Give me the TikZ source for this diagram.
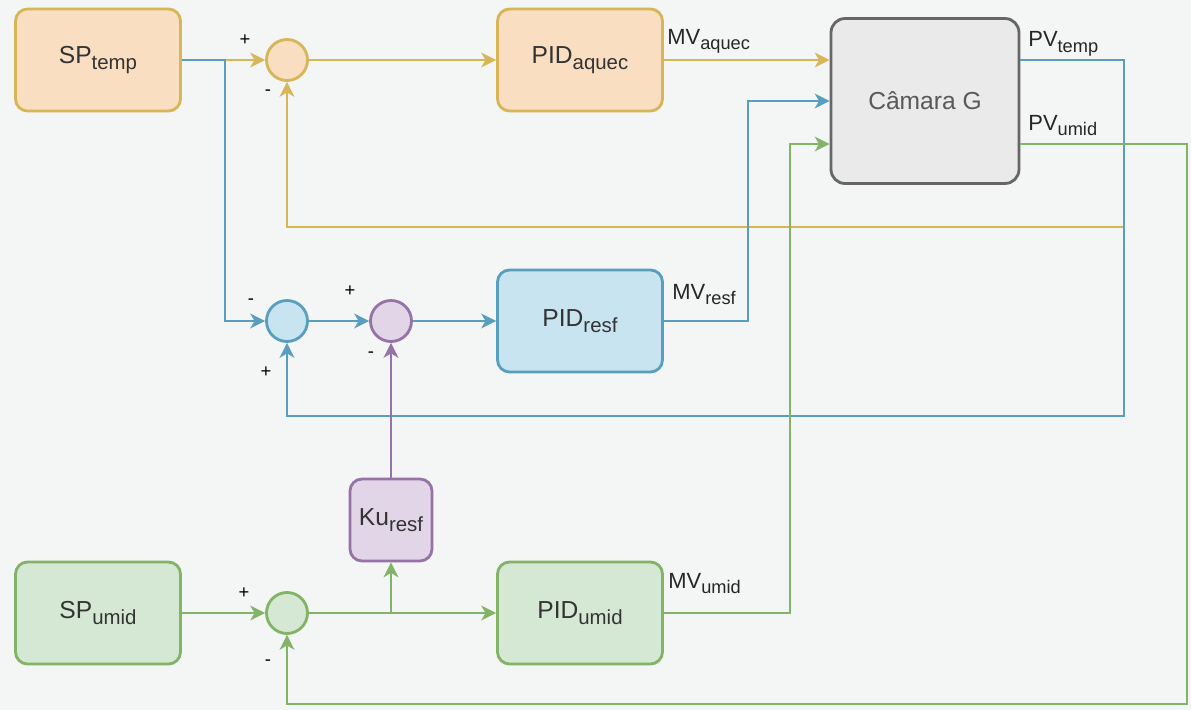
\documentclass[tikz,border=0pt]{standalone}
\usepackage{graphicx}
\usepackage{fontspec}
\setmainfont{Liberation Sans}
\usetikzlibrary{arrows.meta}
\definecolor{ctbg}{RGB}{244,245,245}
\definecolor{ctgold}{RGB}{214,182,86}
\definecolor{ctpeach}{RGB}{249,222,193}
\definecolor{ctblue}{RGB}{88,158,190}
\definecolor{ctcyan}{RGB}{200,228,240}
\definecolor{ctpurple}{RGB}{150,115,166}
\definecolor{ctlilac}{RGB}{225,213,231}
\definecolor{ctgreen}{RGB}{130,179,102}
\definecolor{ctmint}{RGB}{213,232,212}
\definecolor{ctgray}{RGB}{102,102,102}
\definecolor{ctlight}{RGB}{234,234,234}
\newcommand{\sbx}[1]{\raisebox{-0.27em}{\scalebox{0.83}{#1}}}

\begin{document}
\begin{tikzpicture}[
    x=0.02cm, y=-0.02cm,
    box/.style={rectangle, rounded corners=0.24cm, line width=1.6pt, minimum width=3.3cm, minimum height=2.04cm, align=center, text=black!80, font=\fontsize{14}{17}\selectfont},
    sumnode/.style={circle, line width=1.6pt, minimum size=0.82cm, inner sep=0pt},
    arrow/.style={-{Stealth[length=8.5pt,width=8.5pt,inset=2.5pt]}, line width=0.9pt},
    sign/.style={inner sep=0pt, font=\fontsize{10.5}{12}\selectfont},
    lbl/.style={anchor=base west, inner sep=0pt, text=black!85, font=\fontsize{12.5}{15}\selectfont}
]
    \fill[ctbg] (0,0) rectangle (1191,710);

    \node[box, draw=ctgold, fill=ctpeach] (sptemp) at (98,60) {SP\sbx{temp}};
    \node[sumnode, draw=ctgold, fill=ctpeach] (sum1) at (287,60) {};
    \node[box, draw=ctgold, fill=ctpeach] (pidaq) at (580,60) {PID\sbx{aquec}};
    \node[box, draw=ctgray, fill=ctlight, text=black!65, minimum width=3.76cm, minimum height=3.3cm, rounded corners=0.28cm] (camara) at (925,101) {Câmara G};

    \node[sumnode, draw=ctblue, fill=ctcyan] (sum2) at (287,321) {};
    \node[sumnode, draw=ctpurple, fill=ctlilac] (sum3) at (391,321) {};
    \node[box, draw=ctblue, fill=ctcyan] (pidrf) at (580,321) {PID\sbx{resf}};

    \node[box, draw=ctpurple, fill=ctlilac, minimum width=1.64cm, minimum height=1.64cm, inner sep=1pt] (kur) at (391,520) {Ku\sbx{resf}};

    \node[box, draw=ctgreen, fill=ctmint] (spum) at (98,613) {SP\sbx{umid}};
    \node[sumnode, draw=ctgreen, fill=ctmint] (sum4) at (287,613) {};
    \node[box, draw=ctgreen, fill=ctmint] (pidum) at (580,613) {PID\sbx{umid}};

    \coordinate (tsplit) at (225,60);
    \coordinate (tcorner) at (1124,60);
    \coordinate (ttap) at (1124,227);
    \coordinate (tdown) at (1124,416);
    \coordinate (rcorner) at (748,321);
    \coordinate (ucorner) at (1187,144);
    \coordinate (udown) at (1187,704);
    \coordinate (mvcorner) at (790,613);
    \coordinate (kutap) at (391,613);

    \draw[arrow, ctgold] (sptemp) -- (sum1);
    \draw[arrow, ctgold] (sum1) -- (pidaq);
    \draw[arrow, ctgold] (pidaq) -- (pidaq -| camara.west);
    \draw[arrow, ctgold] (ttap) -| (sum1);

    \draw[arrow, ctblue] (sptemp) -- (tsplit) |- (sum2);
    \draw[arrow, ctblue] (sum2) -- (sum3);
    \draw[arrow, ctblue] (sum3) -- (pidrf);
    \draw[arrow, ctblue] (pidrf) -- (rcorner) |- (camara);
    \draw[arrow, ctblue] (camara.east |- tcorner) -- (tcorner) -- (tdown) -| (sum2);

    \draw[arrow, ctgreen] (spum) -- (sum4);
    \draw[arrow, ctgreen] (sum4) -- (pidum);
    \draw[arrow, ctgreen] (kutap) -- (kur);
    \draw[arrow, ctpurple] (kur) -- (sum3);
    \draw[arrow, ctgreen] (pidum) -- (mvcorner) |- (camara.west |- ucorner);
    \draw[arrow, ctgreen] (camara.east |- ucorner) -- (ucorner) -- (udown) -| (sum4);

    \node[lbl] (mvaq) at (667,44) {MV\sbx{aquec}};
    \node[lbl] (mvrf) at (672,299) {MV\sbx{resf}};
    \node[lbl] (mvum) at (668,588) {MV\sbx{umid}};
    \node[lbl] (pvtp) at (1028,47) {PV\sbx{temp}};
    \node[lbl] (pvum) at (1028,130) {PV\sbx{umid}};

    \node[sign] (s1p) at (245,40) {+};
    \node[sign] (s1m) at (268,93) {-};
    \node[sign] (s2m) at (251,302) {-};
    \node[sign] (s2p) at (266,372) {+};
    \node[sign] (s3p) at (350,291) {+};
    \node[sign] (s3m) at (371,355) {-};
    \node[sign] (s4p) at (244,593) {+};
    \node[sign] (s4m) at (268,663) {-};
\end{tikzpicture}
\end{document}
